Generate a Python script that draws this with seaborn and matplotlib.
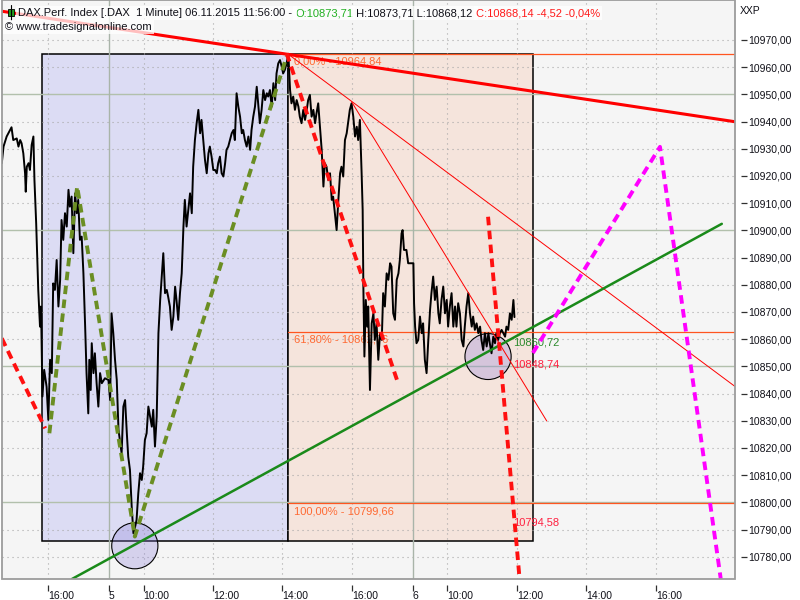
import numpy as np
import matplotlib
matplotlib.use("Agg")
import matplotlib.pyplot as plt
import seaborn as sns
from matplotlib.patches import Rectangle, Ellipse
from matplotlib.lines import Line2D

sns.set_style("white")
plt.rcParams['font.family'] = ['Liberation Sans', 'DejaVu Sans']

# x = trading hours counted from 04.11. 09:00 (one session 09:00-17:45 = 8.75 h)
t_hours = [5.67, 5.72, 5.81, 5.95, 6.00, 6.10, 6.15, 6.20, 6.24, 6.29, 6.34, 6.36, 6.39, 6.44, 6.48, 6.53,
           6.58, 6.61, 6.66, 6.69, 6.72, 6.77, 6.80, 6.84, 6.89, 6.96, 7.01, 7.06, 7.11, 7.15, 7.20, 7.25,
           7.30, 7.35, 7.39, 7.44, 7.49, 7.54, 7.59, 7.63, 7.68, 7.73, 7.78, 7.83, 7.87, 7.92, 7.97, 8.02,
           8.07, 8.11, 8.16, 8.19, 8.23, 8.26, 8.31, 8.35, 8.40, 8.45, 8.50, 8.55, 8.64, 8.74, 8.79, 8.83,
           8.88, 8.93, 8.98, 9.03, 9.07, 9.12, 9.17, 9.22, 9.27, 9.31, 9.36, 9.41, 9.46, 9.51, 9.55, 9.60,
           9.65, 9.70, 9.74, 9.79, 9.84, 9.89, 9.94, 9.99, 10.03, 10.08, 10.13, 10.18, 10.23, 10.27, 10.32,
           10.37, 10.42, 10.46, 10.51, 10.56, 10.61, 10.66, 10.70, 10.75, 10.80, 10.85, 10.90, 10.94, 10.99,
           11.04, 11.09, 11.14, 11.18, 11.23, 11.28, 11.33, 11.38, 11.42, 11.47, 11.52, 11.57, 11.62, 11.66,
           11.71, 11.76, 11.81, 11.86, 11.90, 11.95, 12.00, 12.05, 12.10, 12.14, 12.19, 12.24, 12.29, 12.34,
           12.38, 12.43, 12.48, 12.53, 12.58, 12.62, 12.67, 12.72, 12.77, 12.82, 12.86, 12.91, 12.96, 13.01,
           13.06, 13.10, 13.15, 13.20, 13.25, 13.30, 13.34, 13.39, 13.44, 13.49, 13.54, 13.58, 13.63, 13.68,
           13.73, 13.77, 13.82, 13.87, 13.92,
           13.97, 14.01, 14.06, 14.11, 14.16, 14.21, 14.25, 14.30, 14.35, 14.40, 14.45, 14.49, 14.54, 14.59,
           14.64, 14.69, 14.73, 14.78, 14.83, 14.88, 14.93, 14.97, 15.02, 15.07, 15.12, 15.17, 15.21, 15.26,
           15.31, 15.36, 15.41, 15.45, 15.50, 15.55, 15.60, 15.65, 15.69, 15.74, 15.79, 15.84, 15.89, 15.93,
           15.98, 16.03, 16.06, 16.08, 16.11, 16.15, 16.19, 16.22, 16.27, 16.32, 16.37, 16.41, 16.46, 16.51,
           16.56, 16.61, 16.65, 16.70, 16.75, 16.80, 16.85, 16.89, 16.94, 16.99, 17.04, 17.09, 17.13, 17.18,
           17.21, 17.25, 17.32, 17.37, 17.52, 17.54, 17.57, 17.61, 17.66, 17.71, 17.76, 17.80, 17.85, 17.90,
           17.95, 18.00, 18.04, 18.09, 18.14, 18.19, 18.24, 18.28, 18.33, 18.38, 18.43, 18.48, 18.52, 18.57,
           18.62, 18.67, 18.72, 18.76, 18.81, 18.86, 18.91, 18.96, 19.00, 19.05, 19.10, 19.15, 19.20, 19.24,
           19.29, 19.34, 19.39, 19.44, 19.48, 19.53, 19.58, 19.63, 19.68, 19.72, 19.77, 19.82, 19.87, 19.91,
           19.96, 20.01, 20.06, 20.11, 20.16, 20.20, 20.25, 20.30, 20.35, 20.40, 20.43]
close = [10924.7, 10930.8, 10934.5, 10937.9, 10933.2, 10933.8, 10930.8, 10933.2, 10932.0, 10928.3, 10921.0,
         10914.2, 10923.4, 10924.7, 10922.2, 10931.4, 10934.5, 10918.5, 10902.6, 10890.3, 10878.1, 10864.6,
         10872.0, 10838.9, 10848.7, 10842.5, 10830.3, 10852.4, 10847.5, 10880.5, 10878.1, 10889.1, 10872.0,
         10881.8, 10903.8, 10896.5, 10906.3, 10901.4, 10914.9, 10908.7, 10912.4, 10891.6, 10913.6, 10906.3,
         10911.2, 10896.5, 10897.7, 10884.2, 10864.6, 10847.5, 10832.7, 10852.4, 10841.3, 10858.5, 10847.5,
         10854.8, 10843.8, 10835.2, 10847.5, 10843.8, 10845.6, 10845.0, 10837.6, 10869.5, 10862.2, 10852.4,
         10845.0, 10826.6, 10822.9, 10818.0, 10835.2, 10837.6, 10825.4, 10816.8, 10811.9, 10798.4, 10788.6,
         10791.1, 10793.5, 10803.3, 10810.7, 10808.2, 10813.1, 10822.9, 10825.4, 10835.2, 10831.5, 10827.8,
         10834.0, 10820.5, 10831.5, 10862.2, 10874.4, 10881.8, 10891.6, 10876.9, 10878.1, 10875.6, 10872.0,
         10863.4, 10868.3, 10879.3, 10874.4, 10867.1, 10876.9, 10884.2, 10901.4, 10911.2, 10901.4, 10907.5,
         10913.6, 10906.3, 10923.4, 10933.2, 10939.4, 10944.3, 10935.7, 10940.6, 10933.2, 10925.9, 10921.0,
         10928.3, 10930.8, 10927.1, 10922.2, 10922.2, 10921.0, 10924.7, 10927.1, 10921.0, 10919.8, 10924.7,
         10929.6, 10930.8, 10933.2, 10935.7, 10936.9, 10933.2, 10950.4, 10945.5, 10941.8, 10935.7, 10936.9,
         10933.2, 10930.8, 10934.5, 10929.6, 10936.9, 10941.8, 10945.5, 10952.8, 10945.5, 10939.4, 10944.3,
         10951.6, 10947.9, 10950.4, 10949.2, 10951.6, 10945.5, 10954.1, 10947.9, 10957.7, 10961.4, 10962.6,
         10960.2, 10957.7, 10959.0, 10961.4, 10964.8,
         10951.6, 10946.7, 10949.2, 10944.3, 10947.9, 10945.5, 10941.8, 10939.4, 10944.3, 10940.6, 10944.3,
         10947.9, 10949.8, 10941.8, 10944.3, 10939.4, 10943.0, 10946.7, 10938.1, 10929.6, 10916.1, 10924.7,
         10923.4, 10918.5, 10921.0, 10911.2, 10912.4, 10906.3, 10900.1, 10911.2, 10921.0, 10923.4, 10919.8,
         10933.2, 10935.7, 10940.6, 10944.3, 10946.7, 10941.8, 10934.5, 10938.1, 10933.2, 10940.6, 10921.0,
         10907.5, 10879.3, 10853.6, 10874.4, 10864.6, 10872.0, 10841.3, 10865.8, 10869.5, 10859.7, 10865.8,
         10852.4, 10862.2, 10859.7, 10876.9, 10872.0, 10884.2, 10881.8, 10887.9, 10886.7, 10869.5, 10867.1,
         10881.8, 10884.2, 10889.1, 10898.9, 10900.1, 10892.8, 10892.8, 10887.9, 10887.9, 10873.2, 10864.6,
         10858.5, 10859.7, 10868.3, 10862.2, 10865.8, 10852.4, 10847.5, 10859.7, 10870.7, 10876.9, 10883.0,
         10874.4, 10879.3, 10869.5, 10865.8, 10874.4, 10879.3, 10869.5, 10874.4, 10864.6, 10872.0, 10876.9,
         10864.6, 10872.0, 10864.6, 10873.2, 10869.5, 10859.7, 10857.3, 10864.6, 10872.0, 10876.9, 10869.5,
         10864.6, 10868.3, 10863.4, 10865.8, 10862.2, 10864.6, 10859.7, 10856.0, 10862.2, 10857.3, 10862.2,
         10858.5, 10854.8, 10860.9, 10858.5, 10862.2, 10859.7, 10862.2, 10863.4, 10862.2, 10860.9, 10864.6,
         10863.4, 10869.5, 10867.1, 10874.4, 10868.1]

tick_pos = [7.0, 8.75, 9.75, 11.75, 13.75, 15.75, 17.5, 18.5, 20.5, 22.5, 24.5]
tick_lbl = ["16:00", "5", "10:00", "12:00", "14:00", "16:00", "6", "10:00", "12:00", "14:00", "16:00"]
day_starts = [8.75, 17.5]
price_ticks = list(range(10780, 10971, 10))

fib_start = 13.91
fib_levels = [10964.84, 10862.76, 10799.66]
fib_labels = ["0,00% - 10964,84", "61,80% - 10862,76", "100,00% - 10799,66"]

box_blue = (6.84, 13.91)
box_red = (13.91, 20.96)
box_low, box_high = 10785.6, 10964.84

trend_red = ([5.6, 26.8], [10980.7, 10939.9])
fan_1 = ([13.91, 26.78], [10964.84, 10842.6])
fan_2 = ([15.74, 21.36], [10947.3, 10829.9])
trend_green = ([7.69, 26.40], [10771.8, 10902.4])
wave_left = ([5.67, 6.92], [10860.3, 10827.2])
wave_olive = ([7.04, 7.84, 9.50, 13.87], [10825.4, 10916.1, 10787.4, 10963.9])
wave_down = ([13.87, 17.08], [10965.1, 10843.8])
wave_drop = ([19.67, 20.59], [10905.0, 10770.0])
wave_magenta = ([20.96, 24.62, 26.37], [10854.9, 10930.7, 10771.8])
circle_centres = [(9.50, 10784.0), (19.67, 10853.6)]
marks = [("10860,72", 10860.72, "#2e8b2e", "top"),
         ("10848,74", 10848.74, "#ff1f3f", "bottom"),
         ("10794,58", 10794.58, "#ff1f3f", "top")]

fig = plt.figure(figsize=(8, 6), dpi=100)
ax = fig.add_axes([2 / 800, 21 / 600, 733 / 800, 579 / 600])
ax.set_facecolor("#f5f5f5")
ax.set_xlim(5.676, 26.78)
ax.set_ylim(10771.8, 10984.7)

# boxes
for (x0, x1), col in [(box_blue, "#dcdcf4"), (box_red, "#f5e4dc")]:
    ax.add_patch(Rectangle((x0, box_low), x1 - x0, box_high - box_low, facecolor=col,
                           edgecolor="black", lw=1.1, zorder=1))

# grid
for v in price_ticks:
    if v % 50 == 0:
        ax.axhline(v, color="#b2c0ac", lw=1, zorder=1.5)
    else:
        ax.axhline(v, color="#a8a8a8", lw=0.8, ls=(0, (1, 3.5)), zorder=1.5)
for p in tick_pos:
    if p in day_starts:
        ax.axvline(p, color="#a9b4a9", lw=1, zorder=1.5)
    else:
        ax.axvline(p, color="#a8a8a8", lw=0.8, ls=(0, (1, 3.5)), zorder=1.5)

# fibonacci levels
for lvl, lbl in zip(fib_levels, fib_labels):
    ax.plot([fib_start, 26.78], [lvl, lvl], color="#ff5520", lw=0.9, zorder=2)
    ax.annotate(lbl, (fib_start, lvl), xytext=(4, -2), textcoords="offset points",
                ha="left", va="top", color="#ff6a33", fontsize=8, zorder=2.2)

# circles
for cx, cy in circle_centres:
    ax.add_patch(Ellipse((cx, cy), 1.33, 16.9, facecolor=(0.55, 0.5, 0.85, 0.3),
                         edgecolor="black", lw=0.8, zorder=2.5))

# price
sns.lineplot(x=t_hours, y=close, ax=ax, color="black", linewidth=1.4,
             estimator=None, sort=False, zorder=3)

# trend lines
ax.plot(*trend_red, color="#ff0000", lw=2.2, zorder=4)
ax.plot(*fan_1, color="#ff0000", lw=0.7, zorder=4)
ax.plot(*fan_2, color="#ff0000", lw=0.7, zorder=4)
ax.plot(*trend_green, color="#1a8a1a", lw=1.8, zorder=4)

for txt, val, col, va in marks:
    ax.annotate(txt, (t_hours[-1], val), xytext=(-1, 0), textcoords="offset points",
                ha="left", va=va, color=col, fontsize=8, zorder=4.2)

dash = dict(lw=2.8, dashes=(2.2, 1.4), solid_capstyle="butt", dash_capstyle="butt", zorder=4.5)
ax.plot(*wave_left, color="#ff1010", **dash)
ax.plot(*wave_olive, color="#6b8e23", **dash)
ax.plot(*wave_down, color="#ff1010", **dash)
ax.plot(*wave_drop, color="#ff1010", **dash)
ax.plot(*wave_magenta, color="#ff00ff", **dash)

# axes
for s in ax.spines.values():
    s.set_visible(False)
ax.spines["right"].set_position(("outward", 4))
ax.spines["bottom"].set_position(("outward", 4))
ax.add_patch(Rectangle((0, 0), 1, 1, transform=ax.transAxes, fill=False,
                       edgecolor="#9c9c9c", lw=1.3, clip_on=False, zorder=10))

ax.yaxis.tick_right()
ax.set_yticks(price_ticks)
ax.set_yticklabels([f"{v:.2f}".replace(".", ",") for v in price_ticks])
ax.set_xticks(tick_pos)
ax.set_xticklabels(tick_lbl)
ax.tick_params(axis="y", right=True, left=False, length=4, width=0.9, color="#303030",
               pad=1.5, labelsize=7.5, labelcolor="#101018")
ax.tick_params(axis="x", bottom=True, length=4, width=0.9, color="#303030",
               pad=0.5, labelsize=7.5, labelcolor="#101018")
for lbl in ax.get_xticklabels():
    lbl.set_horizontalalignment("left")
ax.set_xlabel("")
ax.set_ylabel("")

# header
box = dict(facecolor="white", alpha=0.75, edgecolor="none", pad=1.5)
fig.add_artist(Line2D([10.5 / 800, 10.5 / 800], [1 - 5 / 600, 1 - 20 / 600], color="black", lw=0.8))
fig.add_artist(Rectangle((7.5 / 800, 1 - 16 / 600), 6 / 800, 7 / 600, facecolor="#1f9a1f",
                         edgecolor="black", lw=0.6))
h1 = fig.text(18 / 800, 1 - 16 / 600, "DAX.Perf. Index [.DAX  1 Minute] 06.11.2015 11:56:00 - ",
              fontsize=8, color="#101018", va="baseline", bbox=box)
h2 = ax.annotate("O:10873,71", xy=(1, 0), xycoords=h1, va="bottom", ha="left",
                 fontsize=8, color="#22b022", bbox=box, annotation_clip=False)
h3 = ax.annotate(" H:10873,71 L:10868,12 ", xy=(1, 0), xycoords=h2, va="bottom", ha="left",
                 fontsize=8, color="#101018", bbox=box, annotation_clip=False)
ax.annotate("C:10868,14 -4,52 -0,04%", xy=(1, 0), xycoords=h3, va="bottom", ha="left",
            fontsize=8, color="#ff1a1a", bbox=box, annotation_clip=False)
fig.text(5 / 800, 1 - 30 / 600, "\u00a9 www.tradesignalonline.com", fontsize=8,
         color="#101018", va="baseline", bbox=box)
fig.text(740 / 800, 1 - 11 / 600, "XXP", fontsize=7.5, color="#101018", va="center")

fig.savefig("out.png", dpi=100, facecolor="white")
